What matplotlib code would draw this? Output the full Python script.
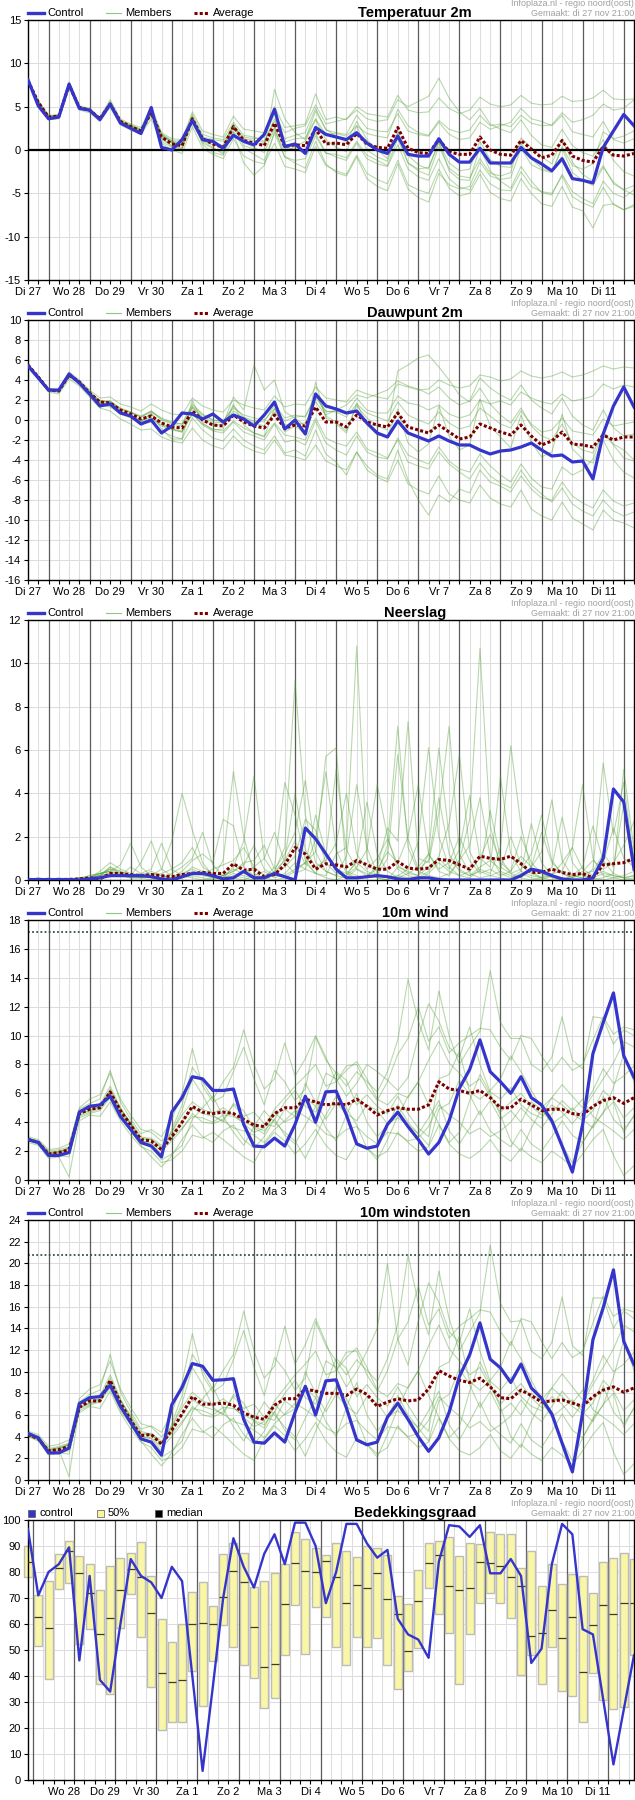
import numpy as np
import matplotlib.pyplot as plt
from matplotlib.lines import Line2D
from matplotlib.patches import Rectangle

plt.rcParams['font.family'] = ['Liberation Sans', 'DejaVu Sans']
plt.rcParams['axes.unicode_minus'] = False

# 6-hourly steps, 60 per series
day_labels = ['Di 27', 'Wo 28', 'Do 29', 'Vr 30', 'Za 1', 'Zo 2', 'Ma 3', 'Di 4',
              'Wo 5', 'Do 6', 'Vr 7', 'Za 8', 'Zo 9', 'Ma 10', 'Di 11']

# --- Temperatuur 2m ---
temp_control = [8.1, 5.1, 3.6, 3.8, 7.6, 4.8, 4.6, 3.5, 5.3, 3.1,
                2.5, 1.9, 4.9, 0.3, 0.0, 1.2, 3.4, 1.2, 1.0, 0.2,
                1.7, 1.0, 0.6, 1.8, 4.7, 0.4, 0.7, -0.4, 2.6, 1.8,
                1.5, 1.2, 2.0, 0.8, 0.0, -0.4, 1.6, -0.5, -0.7, -0.7,
                1.3, -0.5, -1.4, -1.4, 0.2, -1.5, -1.5, -1.5, 0.3, -0.9,
                -1.6, -2.4, -1.0, -3.3, -3.5, -3.8, 0.3, 2.2, 4.1, 2.8]
temp_avg = [8.0, 5.5, 3.8, 3.9, 7.5, 4.9, 4.6, 3.6, 5.3, 3.3,
            2.7, 2.2, 4.3, 1.5, 0.7, 0.5, 3.6, 1.3, 0.7, 0.3,
            2.7, 1.1, 0.8, 0.5, 3.1, 0.4, 0.6, 0.5, 2.4, 0.7,
            0.8, 0.6, 1.9, 0.7, 0.3, 0.2, 2.6, 0.2, -0.3, -0.4,
            1.2, -0.2, -0.5, -0.5, 1.5, 0.0, -0.5, -0.6, 1.1, 0.1,
            -0.9, -0.6, 1.1, -0.7, -1.2, -1.4, 0.4, -0.6, -0.7, -0.4]
temp_members = [
    [8.1, 5.7, 4.0, 4.1, 7.9, 5.1, 4.8, 3.8, 5.8, 3.6, 3.0, 2.6, 5.0, 2.0, 1.3, 1.2, 4.4, 2.2, 1.8, 1.5,
     3.9, 2.4, 2.2, 2.0, 5.0, 2.6, 2.8, 3.0, 6.5, 3.5, 3.8, 3.5, 5.0, 4.2, 4.0, 3.8, 6.3, 4.6, 4.3, 4.4,
     6.0, 4.8, 4.2, 4.6, 6.1, 5.3, 5.0, 5.2, 6.3, 5.4, 5.2, 5.3, 6.2, 5.6, 5.7, 6.0, 6.9, 5.9, 5.8, 5.9],
    [7.9, 5.3, 3.5, 3.6, 7.1, 4.6, 4.3, 3.3, 4.9, 2.9, 2.3, 1.8, 3.6, 0.8, 0.0, -0.4, 2.7, 0.2, -0.5, -1.0,
     1.3, -0.7, -1.3, -1.6, 0.8, -1.9, -2.2, -2.6, 0.4, -1.8, -2.4, -2.8, -0.6, -2.7, -3.4, -3.9, -1.2, -4.0, -4.6, -5.0,
     -2.2, -4.4, -5.3, -5.0, -2.8, -4.9, -5.6, -5.9, -3.3, -5.0, -6.2, -6.5, -4.2, -6.6, -7.0, -9.0, -6.4, -6.2, -6.9, -6.5],
    [8.0, 5.5, 3.9, 4.0, 7.7, 5.0, 4.6, 3.6, 5.5, 3.4, 2.8, 2.3, 4.6, 1.4, 0.4, 0.2, 3.9, 1.0, 0.3, -0.5,
     3.0, 0.5, 0.1, 0.0, 7.0, 3.6, 2.0, 1.2, 4.5, 2.4, 1.6, 0.9, 3.3, 1.2, 0.0, -1.0, 1.9, -1.5, -2.4, -2.9,
     0.4, -2.1, -3.0, -3.2, -1.0, -2.7, -3.0, -2.6, 1.4, 0.3, -0.8, -1.6, 1.3, -1.4, -2.8, -3.6, -1.8, -3.9, -4.6, -5.2],
    [8.1, 5.6, 3.7, 3.7, 7.4, 4.9, 4.5, 3.5, 5.2, 3.2, 2.6, 2.1, 4.1, 1.6, 1.0, 0.8, 3.4, 1.5, 1.2, 1.0,
     2.6, 1.5, 1.3, 1.5, 4.1, 2.0, 2.5, 2.8, 5.2, 3.0, 3.3, 3.6, 4.6, 3.6, 3.3, 3.5, 5.8, 5.0, 5.6, 6.2,
     8.3, 6.0, 4.4, 3.5, 4.8, 3.0, 2.4, 2.0, 3.5, 1.7, 0.6, 0.3, 2.4, 0.5, -0.3, -0.7, 1.2, -1.2, -2.5, -3.0],
    [8.0, 5.4, 3.8, 3.9, 7.6, 4.8, 4.7, 3.6, 5.3, 3.3, 2.7, 2.2, 4.2, 1.0, 0.3, 0.1, 3.2, 0.8, 0.2, -0.3,
     2.2, 0.2, -0.5, -1.2, 1.9, -0.8, -1.2, -1.0, 1.6, -0.4, -0.5, -0.9, 1.0, -0.6, -1.2, -1.8, 1.3, -1.5, -2.2, -2.0,
     0.8, -1.5, -2.4, -2.2, 1.0, -1.1, -1.9, -2.0, 0.8, -1.0, -2.1, -2.5, 0.2, -2.6, -3.5, -4.1, -2.0, -3.7, -4.6, -4.1],
    [8.0, 5.6, 3.9, 4.0, 7.5, 5.0, 4.6, 3.7, 5.4, 3.3, 2.6, 2.0, 4.4, 1.7, 0.9, 0.6, 3.8, 1.4, 0.8, 0.2,
     2.9, 0.9, 0.3, -0.3, 2.5, -0.8, -1.5, -2.1, 1.0, -1.6, -2.6, -3.0, -0.8, -3.3, -4.2, -4.7, -1.6, -4.5, -5.5, -6.0,
     -2.7, -4.0, -4.5, -4.2, -1.4, -3.0, -3.4, -3.2, 0.2, -1.7, -2.3, -2.6, 0.4, -1.8, -2.2, -1.6, 2.1, 1.3, 1.6, 2.2],
    [8.0, 5.5, 3.8, 3.8, 7.6, 4.9, 4.6, 3.6, 5.4, 3.4, 2.9, 2.4, 4.6, 1.8, 1.1, 1.0, 4.1, 1.8, 1.4, 1.2,
     3.2, 1.7, 1.5, 1.0, 3.6, 1.3, 1.7, 2.0, 4.8, 2.3, 2.0, 1.8, 4.0, 2.5, 2.2, 2.1, 4.2, 2.2, 1.8, 1.6,
     3.2, 1.8, 1.2, 1.4, 3.2, 2.4, 2.8, 3.2, 4.8, 3.6, 3.3, 2.8, 4.0, 2.1, 1.8, 1.5, 3.3, 1.2, 0.8, 1.3],
    [8.0, 5.4, 3.7, 3.8, 7.4, 4.8, 4.5, 3.5, 5.1, 3.2, 2.6, 2.1, 4.0, 1.3, 0.5, 0.3, 3.3, 1.1, 0.6, 0.4,
     2.5, 1.0, 0.7, 0.7, 2.6, 0.2, 0.1, -0.4, 1.9, -0.3, -0.8, -1.2, 0.8, -1.0, -1.6, -1.9, 0.6, -2.2, -3.1, -3.5,
     -1.0, -3.3, -4.3, -4.6, -2.3, -3.9, -4.6, -4.7, -2.5, -4.2, -4.8, -5.0, -3.0, -5.4, -6.1, -6.6, -4.3, -6.3, -6.9, -6.3],
    [8.1, 5.5, 3.8, 3.9, 7.7, 4.9, 4.5, 3.6, 5.6, 3.3, 2.7, 2.3, 4.5, 1.9, 1.0, 0.5, 3.7, 0.6, -0.3, -0.6,
     2.0, -1.5, -2.9, -1.8, 2.2, -0.2, 0.4, 1.0, 3.5, 1.2, 0.3, -0.2, 2.8, 0.0, -0.8, -1.3, 2.1, -0.6, -1.7, -2.2,
     1.0, -2.4, -3.4, -3.5, 0.3, -2.4, -3.6, -4.4, -1.9, -3.6, -4.9, -5.2, -2.8, -4.8, -5.6, -6.2, -3.6, -5.0, -5.5, -4.6],
    [8.0, 5.6, 3.9, 4.0, 7.4, 5.0, 4.6, 3.7, 5.2, 3.3, 2.8, 2.3, 4.4, 1.6, 0.8, 0.6, 3.6, 1.4, 0.9, 0.5,
     2.9, 1.3, 1.1, 0.9, 3.3, 0.9, 1.3, 1.4, 3.6, 1.8, 1.9, 1.6, 2.8, 1.9, 1.6, 1.4, 4.7, 2.8, 2.0, 1.7,
     3.4, 2.4, 2.0, 2.3, 4.0, 2.8, 3.0, 2.7, 4.0, 3.1, 2.8, 2.9, 4.3, 3.2, 3.5, 4.0, 5.3, 4.6, 4.8, 5.8],
]

# --- Dauwpunt 2m ---
dew_control = [5.4, 4.2, 3.0, 3.0, 4.6, 3.7, 2.6, 1.4, 1.6, 0.7,
               0.4, -0.4, 0.0, -1.3, -0.6, 0.7, 0.6, 0.1, 0.6, -0.2,
               0.5, 0.1, -0.6, 0.5, 1.8, -0.9, 0.0, -1.4, 2.6, 1.4,
               1.1, 0.7, 0.9, -0.3, -1.3, -1.7, -0.1, -1.3, -1.7, -2.1,
               -1.6, -2.1, -2.5, -2.5, -3.0, -3.4, -3.1, -3.0, -2.7, -2.3,
               -3.0, -3.6, -3.5, -4.2, -4.1, -5.9, -1.4, 1.4, 3.3, 1.3]
dew_avg = [5.5, 4.3, 3.0, 2.9, 4.5, 3.8, 2.7, 1.8, 1.7, 1.0,
           0.6, 0.1, 0.4, -0.3, -0.7, -0.8, 0.9, 0.0, -0.5, -0.6,
           0.5, -0.2, -0.6, -0.8, 0.5, -0.8, -0.5, -0.6, 1.3, -0.2,
           -0.2, -0.7, 0.5, -0.2, -0.5, -0.7, 0.7, -0.7, -1.0, -1.3,
           -0.5, -1.2, -1.9, -1.7, -0.4, -0.8, -1.2, -1.5, -0.5, -1.6,
           -2.5, -2.1, -1.2, -2.4, -2.5, -2.7, -1.5, -2.0, -1.7, -1.7]
dew_members = [
    [5.6, 4.4, 3.1, 3.0, 4.8, 4.0, 3.0, 2.2, 2.3, 1.6, 1.3, 0.9, 1.6, 1.0, 0.6, 0.5, 2.2, 1.4, 1.0, 0.8,
     2.0, 1.5, 1.2, 1.0, 2.4, 1.3, 1.6, 1.5, 3.3, 2.2, 2.0, 1.8, 3.0, 2.6, 2.3, 2.1, 3.6, 3.3, 3.0, 3.1,
     4.0, 3.5, 3.2, 3.4, 4.5, 4.3, 3.9, 4.1, 4.9, 4.4, 4.2, 4.4, 4.8, 4.3, 4.5, 4.9, 5.4, 5.1, 5.3, 5.2],
    [5.4, 4.2, 2.8, 2.6, 4.1, 3.4, 2.3, 1.2, 0.9, 0.1, -0.4, -1.0, -0.9, -1.7, -2.1, -2.3, -0.8, -2.0, -2.6, -2.9,
     -1.6, -2.6, -3.1, -3.4, -2.0, -3.5, -3.7, -4.0, -2.5, -4.1, -4.6, -5.0, -3.2, -5.0, -5.7, -6.2, -4.0, -6.4, -7.0, -7.4,
     -5.6, -7.4, -8.0, -8.3, -6.5, -7.8, -8.4, -8.7, -7.0, -8.9, -9.6, -10.0, -8.2, -9.8, -10.4, -11.0, -9.0, -10.0, -10.3, -10.8],
    [5.5, 4.3, 3.0, 2.9, 4.7, 3.8, 2.6, 1.7, 1.9, 0.9, 0.4, -0.1, 0.6, -0.3, -0.9, -1.2, 1.3, 0.2, -0.6, -0.4,
     2.3, 1.0, 5.5, 3.0, 4.0, 0.8, 0.2, -0.6, 2.7, 0.4, -0.2, -1.1, 1.4, 0.2, -0.6, -1.0, 4.9, 5.5, 6.2, 6.5,
     5.3, 4.0, 2.5, 1.8, 3.2, 1.6, 0.5, -0.3, 1.2, -0.6, -1.6, -2.0, -0.4, -2.3, -3.0, -3.3, -1.2, -2.5, -3.8, -4.1],
    [5.5, 4.2, 2.9, 2.8, 4.3, 3.6, 2.5, 1.5, 1.3, 0.6, 0.2, -0.4, -0.2, -1.1, -1.6, -1.9, 0.2, -1.0, -1.8, -2.1,
     -0.9, -2.0, -2.6, -3.0, -1.6, -3.3, -3.0, -3.6, -1.0, -3.4, -4.2, -5.5, -3.2, -4.6, -5.5, -5.9, -3.0, -6.0, -8.0, -9.5,
     -7.5, -8.2, -6.9, -7.3, -5.0, -6.2, -6.6, -7.2, -5.6, -6.9, -7.8, -8.0, -6.2, -7.6, -8.3, -8.8, -7.0, -8.1, -8.6, -8.3],
    [5.6, 4.4, 3.1, 3.0, 4.6, 3.9, 2.8, 1.9, 1.8, 1.1, 0.8, 0.3, 0.8, 0.2, -0.2, -0.4, 1.6, 0.6, 0.0, -0.2,
     1.4, 0.3, -0.1, -0.2, 1.5, 0.2, 0.5, 0.3, 2.5, 0.9, 0.8, 0.3, 1.6, 0.7, 0.3, -0.1, 1.8, 0.5, 0.0, -0.4,
     0.8, -0.3, -0.9, -0.6, 1.2, 0.4, -0.4, -0.8, 0.9, -0.4, -1.2, -1.0, 0.2, -1.1, -1.3, -1.5, 0.1, -0.6, -0.4, -0.2],
    [5.5, 4.3, 2.9, 2.8, 4.4, 3.7, 2.6, 1.6, 1.4, 0.8, 0.4, -0.2, 0.1, -0.6, -1.0, -1.2, 0.6, -0.5, -1.1, -1.3,
     -0.2, -1.2, -1.6, -2.0, -0.4, -2.2, -2.0, -2.5, -0.1, -2.3, -3.0, -3.5, -1.6, -3.2, -3.7, -3.9, -1.8, -3.5, -4.0, -4.4,
     -2.7, -4.1, -4.9, -5.2, -3.4, -4.6, -5.5, -6.2, -4.4, -5.8, -6.7, -6.9, -4.7, -5.5, -5.0, -3.9, -1.2, -2.4, -3.0, -4.0],
    [5.5, 4.4, 3.1, 3.0, 4.6, 3.9, 2.8, 1.9, 1.9, 1.2, 0.8, 0.4, 0.9, 0.1, -0.3, -0.4, 1.4, 0.5, 0.0, -0.1,
     1.2, 0.5, 0.2, 0.0, 1.1, -0.1, 0.3, 0.4, 2.3, 0.8, 0.9, 0.6, 2.2, 1.0, 0.7, 0.7, 2.4, 1.7, 1.5, 1.0,
     1.5, 0.6, 0.2, 0.5, 2.0, 1.6, 1.9, 1.5, 2.8, 2.2, 1.8, 1.6, 2.6, 1.9, 2.1, 2.4, 3.6, 3.1, 3.5, 3.3],
    [5.4, 4.3, 3.0, 2.9, 4.4, 3.7, 2.7, 1.7, 1.6, 0.9, 0.5, 0.0, 0.2, -0.5, -0.9, -1.1, 0.6, -0.4, -0.9, -1.1,
     -0.1, -0.8, -1.3, -1.6, -0.3, -1.5, -1.7, -2.0, 0.2, -1.8, -2.3, -2.6, -1.2, -2.9, -3.3, -3.8, -2.0, -4.2, -4.6, -4.9,
     -3.2, -4.4, -5.2, -5.9, -4.3, -5.6, -6.3, -6.8, -5.0, -6.5, -7.4, -8.2, -6.8, -8.4, -9.1, -9.6, -8.0, -9.1, -9.6, -9.2],
    [5.6, 4.3, 3.0, 2.9, 4.6, 3.8, 2.7, 1.8, 1.5, 0.7, 0.3, -0.2, 0.7, -0.9, -1.9, -1.9, 2.0, -0.3, -1.0, -0.9,
     1.6, -0.5, -1.3, -1.7, 1.2, -1.2, -0.6, -1.4, 3.8, 0.2, -0.4, -1.3, 1.7, -0.5, -1.5, -1.6, 1.1, -2.3, -3.2, -2.4,
     1.4, -1.6, -3.0, -2.5, 2.1, -0.6, -1.7, -2.8, 0.5, -2.2, -3.7, -3.2, 0.6, -2.9, -3.9, -4.3, -2.0, -4.0, -5.2, -5.8],
    [5.5, 4.4, 3.1, 3.0, 4.5, 3.8, 2.8, 1.9, 1.8, 1.1, 0.7, 0.3, 0.9, 0.0, -0.4, -0.6, 1.2, 0.3, -0.2, -0.3,
     0.9, 0.2, -0.3, -0.6, 0.8, -0.5, -0.4, -0.3, 1.8, 0.5, 1.0, 1.5, 2.5, 2.2, 2.6, 3.0, 3.9, 3.4, 3.1, 2.6,
     3.3, 2.2, 1.5, 1.9, 4.2, 3.2, 2.5, 2.0, 3.5, 2.0, 1.2, 0.6, 2.2, 0.4, -0.5, -1.0, 1.0, -0.8, -1.6, -1.4],
]

# --- Neerslag ---
rain_control = [0.02, 0.02, 0.02, 0.02, 0.02, 0.0, 0.05, 0.1, 0.2, 0.2,
                0.2, 0.2, 0.15, 0.05, 0.0, 0.15, 0.3, 0.3, 0.2, 0.05,
                0.1, 0.4, 0.1, 0.1, 0.3, 0.15, 0.0, 2.4, 1.9, 1.2,
                0.5, 0.1, 0.1, 0.15, 0.2, 0.15, 0.05, 0.02, 0.1, 0.1,
                0.02, 0.0, 0.0, 0.0, 0.0, 0.0, 0.0, 0.0, 0.2, 0.5,
                0.4, 0.2, 0.05, 0.0, 0.0, 0.1, 1.0, 4.2, 3.6, 0.5]
rain_avg = [0.02, 0.02, 0.02, 0.02, 0.03, 0.05, 0.1, 0.05, 0.3, 0.3,
            0.25, 0.2, 0.25, 0.2, 0.15, 0.25, 0.3, 0.35, 0.3, 0.3,
            0.75, 0.45, 0.5, 0.15, 0.25, 0.7, 1.5, 1.2, 0.5, 0.75,
            0.7, 0.6, 0.9, 0.7, 0.5, 0.5, 0.85, 0.55, 0.5, 0.55,
            0.95, 0.9, 0.7, 0.5, 1.1, 1.0, 0.95, 1.1, 0.75, 0.35,
            0.35, 0.5, 0.35, 0.25, 0.3, 0.1, 0.7, 0.75, 0.8, 1.0]
rain_members = [
    [0, 0, 0, 0, 0, 0.1, 0.2, 0.3, 0.5, 0.3, 0.2, 0.1, 0.2, 0.5, 1.8, 4.0, 2.3, 0.8, 0.2, 0.1,
     0.3, 0.2, 0.1, 0, 0.4, 1.5, 9.2, 3.0, 0.8, 0.4, 0.2, 0.1, 0.5, 0.3, 0.1, 0, 0.6, 0.4, 0.2, 1.2,
     6.1, 2.0, 0.5, 0.2, 0.4, 0.2, 0.1, 0, 0.3, 0.1, 0, 0.2, 0.8, 1.5, 4.4, 1.0, 0.2, 0.1, 0, 0.1],
    [0, 0.1, 0, 0, 0, 0, 0.1, 0.4, 0.8, 0.5, 0.3, 0.2, 0.1, 0, 0.1, 0.3, 0.5, 0.3, 0.1, 0.9,
     5.0, 2.0, 0.3, 0.1, 0, 0.1, 0.4, 0.8, 0.3, 0.2, 1.2, 1.5, 10.8, 1.0, 0.1, 0, 0.2, 0.1, 0, 0.3,
     0.8, 0.4, 0.2, 0.1, 0.5, 0.3, 1.5, 6.2, 2.5, 0.4, 0.1, 0, 0, 0.2, 0.1, 0.5, 5.4, 2.1, 4.5, 0.8],
    [0, 0, 0, 0, 0, 0.1, 0.1, 0.2, 0.6, 0.4, 0.2, 0.3, 0.2, 0.1, 0, 0.2, 0.6, 0.4, 0.2, 0.1,
     0.6, 1.8, 4.8, 1.0, 0.3, 0.2, 0.5, 0.8, 1.3, 5.7, 6.1, 0.4, 0.2, 0.1, 0.3, 1.6, 7.1, 1.5, 0.4, 0.2,
     0.1, 0.3, 0.9, 2.8, 10.7, 2.5, 0.6, 0.3, 0.1, 0, 0.1, 0.2, 0.1, 0, 0, 0.1, 0.3, 0.2, 0.1, 0.2],
    [0, 0, 0.1, 0, 0, 0, 0.1, 0.3, 0.4, 0.2, 0.6, 0.3, 0.5, 1.7, 0.5, 0.2, 0.1, 0, 0.1, 0.2,
     0.1, 0, 0.2, 0.4, 0.1, 0.3, 0.8, 0.5, 0.3, 1.1, 5.1, 1.4, 0.5, 0.2, 0.6, 2.4, 1.8, 7.3, 1.0, 0.8,
     3.1, 7.1, 1.2, 0.3, 0.1, 0.2, 0.4, 0.2, 0.1, 0.6, 1.3, 3.7, 0.9, 0.2, 0.1, 0, 0.1, 0.3, 5.1, 1.4],
    [0, 0, 0, 0.1, 0, 0, 0, 0.2, 0.5, 0.4, 0.2, 0.8, 1.8, 0.5, 0.2, 0.1, 0.3, 0.2, 0.1, 0,
     0.2, 0.1, 0, 0.1, 0.6, 4.5, 3.0, 0.9, 0.3, 0.1, 0, 0.2, 0.6, 1.4, 4.4, 2.0, 0.5, 0.2, 0.1, 0.4,
     1.1, 2.6, 5.8, 1.3, 0.4, 3.2, 1.0, 0.3, 0.5, 1.2, 3.0, 0.9, 0.3, 0.1, 0, 0.2, 0.4, 0.2, 0.1, 0],
    [0.1, 0, 0, 0, 0, 0, 0.1, 0.2, 0.3, 0.2, 0.1, 0.1, 0.3, 0.2, 0.1, 0.4, 0.9, 1.2, 0.8, 2.8,
     2.5, 0.6, 0.2, 0.1, 0.3, 0.6, 1.1, 2.8, 2.3, 0.8, 0.3, 0.2, 0.9, 3.6, 1.2, 0.4, 0.1, 0.3, 0.2, 0.6,
     1.0, 0.5, 1.4, 3.9, 1.0, 0.6, 4.8, 1.2, 0.4, 0.2, 0.1, 0.6, 2.9, 0.8, 0.2, 0.1, 0, 0.1, 0.2, 0.4],
    [0, 0, 0, 0, 0, 0.1, 0.1, 0.3, 0.4, 0.7, 1.7, 0.6, 0.2, 0.1, 0, 0.1, 0.2, 0.1, 0, 0.2,
     0.5, 0.3, 0.6, 1.0, 2.2, 0.8, 0.3, 0.5, 1.9, 5.0, 1.4, 0.3, 0.1, 0.2, 0.5, 1.3, 0.8, 2.0, 4.4, 1.2,
     0.4, 0.2, 0.9, 1.6, 3.8, 1.1, 0.3, 0.1, 0.4, 2.6, 0.8, 0.2, 0, 0.1, 0.3, 0.4, 1.2, 0.6, 3.5, 1.0],
    [0, 0, 0, 0, 0, 0, 0.2, 0.3, 0.4, 0.3, 0.2, 0.1, 0, 0.1, 0.3, 0.6, 1.0, 2.2, 0.7, 0.2,
     0.4, 0.8, 0.9, 1.6, 0.5, 1.2, 2.2, 4.6, 1.3, 0.4, 0.2, 1.1, 4.4, 1.5, 0.3, 0.1, 0.2, 0.5, 1.8, 6.1,
     2.0, 0.6, 0.2, 0.4, 1.0, 2.1, 0.8, 0.4, 2.0, 0.8, 0.3, 0.1, 0, 0.2, 0.6, 2.5, 0.9, 0.3, 0.1, 0.2],
    [0, 0.1, 0, 0, 0, 0.1, 0.1, 0.2, 0.6, 0.3, 0.1, 0.2, 0.4, 0.2, 0.1, 0.2, 0.4, 0.3, 0.5, 0.7,
     0.9, 1.5, 0.6, 0.2, 0.4, 0.9, 1.8, 0.7, 3.0, 1.2, 0.5, 0.3, 0.8, 0.4, 0.2, 1.0, 5.8, 1.9, 0.5, 0.9,
     3.8, 1.2, 0.4, 0.2, 0.6, 0.9, 0.5, 2.0, 0.7, 0.3, 0.1, 0.3, 0.4, 1.5, 0.5, 0.2, 0.8, 2.4, 1.0, 0.6],
    [0, 0, 0, 0, 0, 0, 0.1, 0.2, 0.3, 0.2, 0.1, 0.1, 0.2, 0.3, 0.5, 0.8, 1.5, 0.6, 0.3, 0.2,
     0.4, 0.7, 1.6, 0.5, 0.2, 1.0, 4.0, 1.4, 0.6, 0.9, 1.7, 4.0, 1.2, 0.5, 1.0, 1.9, 0.7, 0.3, 0.6, 1.2,
     0.5, 0.8, 2.0, 0.9, 0.3, 0.5, 0.2, 0.4, 1.1, 0.6, 2.2, 0.8, 0.3, 0.1, 0.4, 0.9, 0.5, 0.8, 1.6, 2.7],
]

# --- 10m wind ---
wind_control = [2.8, 2.6, 1.7, 1.7, 1.9, 4.7, 5.1, 5.2, 5.8, 4.4,
                3.5, 2.6, 2.35, 1.6, 4.7, 5.7, 7.15, 7.0, 6.2, 6.2,
                6.3, 3.85, 2.35, 2.3, 2.9, 2.35, 3.85, 5.8, 4.0, 6.1,
                6.15, 4.5, 2.5, 2.2, 2.35, 3.85, 4.7, 3.7, 2.8, 1.8,
                2.6, 4.1, 6.35, 7.65, 9.7, 7.5, 6.8, 6.0, 7.15, 5.7,
                5.2, 4.1, 2.35, 0.55, 3.85, 8.75, 10.9, 12.95, 8.6, 7.1]
wind_avg = [2.8, 2.6, 1.8, 1.9, 2.1, 4.6, 4.9, 5.0, 6.1, 4.8,
            3.8, 2.8, 2.7, 2.1, 3.0, 4.0, 5.1, 4.7, 4.6, 4.7,
            4.6, 4.2, 3.8, 3.7, 4.6, 5.0, 5.0, 5.6, 5.4, 5.2,
            5.3, 5.2, 5.6, 5.1, 4.5, 4.8, 5.0, 4.9, 4.9, 5.2,
            6.8, 6.3, 6.2, 6.0, 6.2, 5.7, 5.0, 5.0, 5.6, 5.2,
            4.8, 4.9, 4.9, 4.6, 4.5, 5.1, 5.5, 5.7, 5.3, 5.7]
wind_limit = 17.2
wind_members = [
    [2.9, 2.7, 2.0, 2.1, 2.3, 4.9, 5.3, 5.6, 7.6, 5.4, 4.2, 3.2, 3.5, 3.0, 4.2, 6.0, 9.1, 6.5, 5.4, 5.8,
     7.5, 9.2, 7.0, 5.2, 7.6, 6.8, 5.5, 6.3, 9.9, 8.3, 7.4, 6.5, 7.5, 6.8, 6.1, 7.5, 9.7, 13.9, 11.0, 9.0,
     13.1, 10.0, 8.0, 9.2, 10.3, 14.5, 10.9, 9.8, 9.8, 8.0, 7.5, 8.5, 11.3, 8.3, 7.7, 11.3, 11.2, 9.4, 10.4, 10.0],
    [2.6, 2.4, 1.5, 1.6, 0.2, 4.1, 4.5, 4.4, 5.4, 4.1, 3.1, 2.3, 2.0, 1.2, 1.4, 2.0, 3.1, 2.9, 3.3, 2.8,
     2.2, 1.6, 1.2, 2.5, 3.3, 2.7, 1.8, 2.5, 3.5, 2.4, 1.7, 1.4, 2.6, 2.2, 1.6, 2.0, 3.3, 2.6, 2.0, 2.3,
     3.8, 2.5, 1.8, 1.5, 2.0, 2.8, 1.8, 1.3, 2.2, 1.6, 1.2, 2.0, 1.5, 0.9, 1.8, 2.8, 3.5, 1.7, 0.3, 1.0],
    [2.8, 2.6, 1.9, 1.9, 2.2, 4.7, 5.1, 5.2, 6.5, 5.0, 3.8, 2.7, 2.5, 1.8, 3.5, 5.2, 7.8, 6.8, 5.6, 6.8,
     7.8, 10.4, 8.0, 6.3, 7.0, 9.5, 7.2, 8.4, 10.0, 8.5, 6.8, 7.9, 8.0, 6.5, 5.5, 6.8, 8.7, 9.8, 12.0, 9.6,
     10.6, 8.8, 9.5, 10.0, 10.5, 10.4, 9.2, 8.3, 10.0, 9.8, 8.6, 7.5, 8.5, 7.6, 8.0, 9.7, 11.3, 10.1, 10.6, 10.4],
    [2.7, 2.5, 1.7, 1.8, 2.0, 4.3, 4.6, 4.8, 5.7, 4.3, 3.4, 2.4, 1.6, 0.9, 1.7, 2.8, 3.8, 3.0, 2.6, 3.4,
     3.8, 2.8, 2.2, 3.0, 4.2, 3.1, 2.5, 3.8, 5.1, 3.6, 2.7, 4.5, 6.0, 4.0, 3.0, 3.8, 5.2, 4.0, 3.2, 4.3,
     5.5, 3.4, 2.5, 3.6, 4.8, 3.4, 2.8, 2.3, 3.5, 2.5, 2.0, 3.0, 4.1, 3.1, 2.6, 3.7, 5.8, 4.2, 3.5, 4.4],
    [3.0, 2.8, 2.1, 2.2, 2.5, 5.0, 5.6, 5.9, 7.4, 5.6, 4.5, 3.5, 3.3, 2.7, 3.3, 4.5, 5.4, 4.9, 4.6, 5.0,
     4.5, 3.9, 3.3, 3.6, 4.9, 5.7, 6.5, 7.2, 8.0, 6.5, 6.8, 7.6, 8.2, 7.0, 5.6, 5.2, 6.0, 5.7, 6.8, 8.3,
     9.6, 8.1, 7.4, 6.5, 7.0, 5.8, 4.7, 5.4, 6.0, 5.1, 4.5, 5.7, 6.6, 5.8, 5.0, 6.2, 7.7, 6.7, 7.2, 7.9],
    [2.8, 2.5, 1.7, 1.7, 1.6, 4.4, 4.7, 4.9, 6.0, 4.6, 3.4, 2.5, 2.3, 1.4, 1.8, 2.4, 4.2, 5.0, 5.8, 4.4,
     3.3, 2.4, 3.7, 4.8, 4.0, 3.3, 2.7, 1.5, 3.0, 4.5, 5.8, 5.0, 3.8, 2.2, 1.4, 2.8, 4.4, 5.8, 6.8, 5.2,
     3.9, 2.6, 3.3, 5.5, 7.3, 6.0, 4.5, 2.7, 2.0, 3.6, 4.9, 4.0, 2.4, 1.2, 2.6, 3.8, 4.6, 6.4, 8.7, 6.8],
    [2.9, 2.6, 1.8, 1.8, 2.3, 4.6, 5.0, 5.0, 6.3, 4.9, 4.0, 3.0, 2.8, 2.2, 3.3, 4.8, 7.0, 5.9, 4.5, 4.0,
     5.3, 4.8, 3.6, 3.2, 4.7, 4.0, 4.4, 5.7, 5.1, 7.4, 7.0, 5.8, 6.7, 8.0, 7.5, 6.9, 6.2, 7.1, 9.9, 12.2,
     11.0, 9.2, 8.5, 10.6, 8.0, 6.1, 5.6, 6.4, 5.2, 4.6, 4.3, 5.2, 4.7, 3.9, 4.8, 5.9, 7.0, 8.1, 9.6, 9.2],
    [2.7, 2.6, 1.8, 2.0, 2.1, 4.5, 4.8, 5.1, 6.2, 4.7, 3.9, 2.7, 2.6, 2.0, 2.7, 3.5, 4.6, 4.0, 3.9, 4.2,
     5.2, 4.4, 4.7, 3.9, 3.7, 4.9, 4.4, 6.7, 5.4, 4.2, 5.3, 4.6, 4.1, 5.2, 4.8, 3.9, 4.3, 3.8, 3.2, 2.4,
     4.9, 5.3, 6.9, 5.9, 4.5, 5.5, 4.2, 4.8, 4.0, 5.4, 4.9, 3.9, 4.4, 5.0, 4.2, 3.6, 4.7, 5.4, 3.3, 4.5],
    [2.8, 2.6, 1.8, 1.9, 2.0, 4.6, 4.8, 5.0, 5.8, 4.8, 3.6, 2.8, 2.8, 2.3, 2.9, 3.6, 4.4, 4.3, 4.0, 4.5,
     4.4, 4.0, 3.7, 3.4, 4.2, 5.4, 6.2, 5.1, 4.7, 6.0, 7.5, 6.9, 5.2, 5.9, 5.1, 4.6, 5.8, 4.6, 3.6, 3.0,
     7.0, 7.3, 8.9, 6.1, 5.6, 6.2, 7.0, 8.6, 7.5, 6.2, 5.0, 5.7, 5.2, 4.6, 4.1, 4.8, 6.2, 5.5, 4.3, 5.0],
    [2.9, 2.7, 1.9, 2.0, 2.2, 4.8, 5.2, 5.2, 6.1, 5.0, 3.9, 2.9, 2.9, 2.4, 3.1, 4.0, 5.0, 4.6, 4.4, 4.1,
     3.6, 3.4, 3.1, 2.6, 3.5, 4.1, 4.8, 4.4, 3.9, 3.2, 2.9, 3.5, 3.7, 3.0, 2.5, 3.3, 3.2, 2.7, 2.9, 3.7,
     5.2, 4.5, 4.0, 3.2, 3.6, 3.0, 3.4, 4.0, 5.0, 4.2, 3.6, 4.6, 5.5, 4.8, 5.6, 4.4, 3.9, 3.4, 2.8, 3.5],
]

# --- 10m windstoten ---
gust_control = [4.3, 3.9, 2.5, 2.5, 2.95, 7.05, 7.6, 7.7, 8.75, 6.8,
                5.3, 3.8, 3.5, 2.3, 6.95, 8.55, 10.75, 10.5, 9.2, 9.25,
                9.35, 5.6, 3.5, 3.4, 4.35, 3.5, 6.25, 8.65, 6.0, 9.15,
                9.25, 6.65, 3.7, 3.25, 3.5, 5.8, 7.1, 5.6, 4.0, 2.65,
                3.9, 6.25, 9.55, 11.55, 14.5, 11.15, 10.35, 9.0, 10.7, 8.5,
                7.55, 6.1, 3.4, 0.75, 6.2, 12.95, 15.9, 19.4, 12.8, 10.65]
gust_avg = [4.2, 3.8, 2.7, 2.8, 3.1, 6.7, 7.3, 7.3, 9.2, 7.1,
            5.5, 4.1, 4.2, 3.3, 4.6, 6.1, 7.7, 7.0, 7.0, 7.1,
            6.9, 6.2, 5.8, 5.6, 6.9, 7.5, 7.5, 8.4, 8.2, 8.0,
            8.0, 7.8, 8.4, 7.9, 6.8, 7.2, 7.5, 7.3, 7.4, 8.4,
            10.1, 9.6, 9.2, 9.0, 9.4, 8.6, 7.6, 7.5, 8.3, 7.8,
            7.2, 7.3, 7.4, 7.1, 6.8, 7.7, 8.3, 8.6, 8.1, 8.5]
gust_limit = 20.8
gust_members = [
    [4.4, 4.0, 2.9, 3.1, 3.4, 7.2, 7.9, 8.3, 11.6, 8.1, 6.3, 4.7, 5.0, 4.4, 6.2, 9.0, 13.5, 9.7, 8.1, 8.8,
     11.1, 13.8, 10.4, 7.8, 11.3, 10.1, 8.3, 9.4, 14.6, 12.4, 11.0, 9.7, 11.1, 10.1, 9.1, 11.2, 14.4, 20.8, 16.3, 13.4,
     19.3, 14.9, 11.9, 13.7, 15.4, 21.7, 16.3, 14.6, 14.7, 11.9, 11.2, 12.7, 16.9, 12.4, 11.5, 16.8, 16.8, 14.0, 15.6, 14.9],
    [4.0, 3.6, 2.3, 2.5, 2.7, 6.2, 6.8, 6.6, 8.2, 6.2, 4.7, 3.5, 3.0, 1.8, 2.1, 3.0, 4.7, 4.4, 5.0, 4.2,
     3.3, 2.4, 1.8, 3.8, 5.0, 4.1, 2.7, 3.8, 5.3, 3.6, 2.6, 2.1, 3.9, 3.3, 2.4, 3.0, 5.0, 3.9, 3.0, 3.5,
     5.7, 3.8, 2.7, 2.3, 3.0, 4.2, 2.7, 2.0, 3.3, 2.4, 1.8, 3.0, 2.3, 1.4, 2.7, 4.2, 5.3, 2.6, 0.5, 1.5],
    [4.3, 3.9, 2.8, 2.9, 3.3, 7.0, 7.6, 7.8, 9.7, 7.5, 5.7, 4.0, 3.8, 2.7, 5.2, 7.8, 11.6, 10.1, 8.4, 10.1,
     11.6, 15.6, 11.9, 9.4, 10.5, 14.2, 10.7, 12.5, 14.9, 12.7, 10.1, 11.8, 11.9, 9.7, 8.2, 10.1, 13.0, 14.6, 17.9, 14.3,
     15.8, 13.1, 14.2, 14.9, 15.7, 15.5, 13.7, 12.4, 14.9, 14.6, 12.8, 11.2, 12.7, 11.3, 11.9, 14.5, 17.0, 15.1, 15.8, 15.5],
    [4.1, 3.7, 2.5, 2.7, 3.0, 6.4, 6.9, 7.2, 8.5, 6.4, 5.1, 3.6, 2.4, 1.3, 2.5, 4.2, 5.7, 4.5, 3.9, 5.1,
     5.7, 4.2, 3.3, 4.5, 6.3, 4.6, 3.7, 5.7, 7.6, 5.4, 4.0, 6.7, 9.0, 6.0, 4.5, 5.7, 7.8, 6.0, 4.8, 6.4,
     8.2, 5.1, 3.7, 5.4, 7.2, 5.1, 4.2, 3.4, 5.2, 3.7, 3.0, 4.5, 6.1, 4.6, 3.9, 5.5, 8.7, 6.3, 5.2, 6.6],
    [4.5, 4.2, 3.1, 3.3, 3.7, 7.5, 8.4, 8.8, 11.0, 8.4, 6.7, 5.2, 4.9, 4.0, 4.9, 6.7, 8.1, 7.3, 6.9, 7.5,
     6.7, 5.8, 4.9, 5.4, 7.3, 8.5, 9.7, 10.7, 11.9, 9.7, 10.1, 11.3, 12.2, 10.4, 8.3, 7.7, 8.9, 8.5, 10.1, 12.4,
     14.3, 12.1, 11.0, 9.7, 10.4, 8.6, 7.0, 8.0, 8.9, 7.6, 6.7, 8.5, 9.8, 8.6, 7.4, 9.2, 11.5, 10.0, 10.7, 11.8],
    [4.2, 3.7, 2.5, 2.5, 2.4, 6.6, 7.0, 7.3, 8.9, 6.9, 5.1, 3.7, 3.4, 2.1, 2.7, 3.6, 6.3, 7.5, 8.6, 6.6,
     4.9, 3.6, 5.5, 7.2, 6.0, 4.9, 4.0, 2.2, 4.5, 6.7, 8.6, 7.5, 5.7, 3.3, 2.1, 4.2, 6.6, 8.6, 10.1, 7.8,
     5.8, 3.9, 4.9, 8.2, 10.9, 8.9, 6.7, 4.0, 3.0, 5.4, 7.3, 6.0, 3.6, 1.8, 3.9, 5.7, 6.9, 9.5, 12.9, 10.1],
    [4.3, 3.9, 2.7, 2.7, 3.4, 6.9, 7.4, 7.4, 9.4, 7.3, 6.0, 4.5, 4.2, 3.3, 4.9, 7.1, 10.4, 8.8, 6.7, 6.0,
     7.9, 7.1, 5.4, 4.8, 7.0, 6.0, 6.6, 8.5, 7.6, 11.0, 10.4, 8.6, 10.0, 11.9, 14.0, 20.0, 13.0, 10.6, 14.7, 18.2,
     16.4, 13.7, 12.7, 15.8, 11.9, 9.1, 8.3, 9.5, 7.7, 6.8, 6.4, 7.7, 7.0, 5.8, 7.1, 8.8, 10.4, 12.1, 14.3, 13.7],
    [4.0, 3.9, 2.7, 3.0, 3.1, 6.7, 7.1, 7.6, 9.2, 7.0, 5.8, 4.0, 3.9, 3.0, 4.0, 5.2, 6.8, 6.0, 5.8, 6.3,
     7.7, 6.6, 7.0, 5.8, 5.5, 7.3, 6.6, 10.0, 8.0, 6.3, 7.9, 6.8, 6.1, 7.7, 7.1, 5.8, 6.4, 5.7, 4.8, 3.6,
     7.3, 7.9, 10.3, 8.8, 6.7, 8.2, 6.3, 7.1, 6.0, 8.0, 7.3, 5.8, 6.6, 7.4, 6.3, 5.4, 7.0, 8.0, 4.9, 6.7],
    [4.2, 3.9, 2.7, 2.8, 0.3, 6.8, 7.1, 7.4, 8.6, 7.1, 5.4, 4.2, 4.2, 3.4, 4.3, 5.4, 6.6, 6.4, 6.0, 6.7,
     6.6, 6.0, 5.5, 5.1, 6.3, 8.0, 9.2, 7.6, 7.0, 8.9, 11.2, 10.3, 7.7, 8.8, 7.6, 6.8, 8.6, 6.9, 5.4, 4.5,
     10.4, 10.9, 13.3, 9.1, 8.3, 9.2, 10.4, 12.8, 11.2, 9.2, 7.4, 8.5, 7.7, 6.8, 6.1, 7.1, 9.2, 8.2, 6.4, 7.4],
    [4.4, 4.0, 2.8, 3.0, 3.3, 7.1, 7.7, 7.7, 9.1, 7.4, 5.8, 4.3, 4.3, 3.6, 4.6, 6.0, 7.4, 6.8, 6.5, 6.1,
     5.4, 5.1, 4.6, 3.9, 5.2, 6.1, 7.1, 6.5, 5.8, 4.8, 4.3, 5.2, 5.5, 4.5, 3.7, 4.9, 4.8, 4.0, 4.3, 5.5,
     7.7, 6.7, 5.9, 4.8, 5.4, 4.5, 5.1, 5.9, 7.4, 6.2, 5.4, 6.8, 8.2, 7.1, 8.3, 6.5, 5.8, 5.1, 4.2, 5.2],
]

# --- Bedekkingsgraad (%) ---
cloud_top = [90, 71, 76.7, 86.8, 92.1, 86.3, 83, 72.9, 82.5, 85.2,
             87.2, 91.7, 78.6, 61.9, 52.9, 60, 72.3, 76.1, 67.1, 86.8,
             91, 87.2, 74.2, 76.6, 79.5, 83, 95.3, 92.7, 89.1, 86.4,
             91, 88, 85.7, 90, 89.4, 86.4, 70.6, 67.6, 80.6, 91.3,
             92.1, 93.4, 86.3, 91, 90.7, 95.5, 94.5, 94.5, 81.7, 88.2,
             74.8, 83, 75.3, 79.2, 78.6, 71.9, 83.8, 85.2, 87.2, 84.9]
cloud_bottom = [78, 51.7, 38.9, 73.4, 75.7, 52.3, 58, 37.1, 32.9, 58.4,
                71.5, 55, 35.8, 19.4, 22.5, 22.5, 41.8, 28.6, 45.7, 59.5,
                51.2, 44.1, 39.3, 27.7, 31.6, 48.2, 67.3, 48.5, 66.5, 62.7,
                51.2, 44.4, 55, 51.2, 54.6, 44.4, 35, 41.8, 50.8, 73.8,
                63.8, 56.5, 37.1, 56.1, 68, 71.9, 68, 62.3, 40.2, 48.2,
                37.1, 51.2, 34.4, 32.5, 22.4, 41.2, 30.9, 27.5, 28.1, 48.2]
cloud_median = [83.8, 62.7, 58.4, 81.7, 87.9, 79.5, 71.9, 56.1, 62.3, 72.9,
                81.1, 78, 64.2, 41.2, 37.7, 38.5, 60, 60.4, 60.1, 70.3,
                80.4, 76.3, 58.8, 43.5, 44.6, 67.6, 83.4, 80.4, 79.9, 84.1,
                78, 68, 74.9, 73.8, 79.5, 69.6, 63.8, 49.5, 68.9, 83.4,
                86.6, 74.7, 73.1, 73.8, 83.8, 83.4, 82.5, 78, 74.7, 55.5,
                56.5, 65.5, 54.6, 62.7, 41.6, 59.5, 67.4, 63.8, 68, 68]
cloud_control = [96.5, 71, 80, 83, 89.5, 46, 78.5, 38.5, 34, 60,
                 85, 78.5, 76, 70, 82, 76.5, 40, 3.5, 36, 70,
                 93, 82, 74, 87, 94.5, 83, 99, 99, 90, 68,
                 80, 98.5, 98.5, 91, 85.5, 88.5, 62, 56, 54, 47,
                 84, 98, 97.5, 93.5, 98, 79.5, 79.5, 85, 78.5, 45,
                 50.5, 83, 98.5, 94.5, 58, 56, 31, 6, 27, 48]

# ---------------- drawing ----------------
W, H = 635, 1800
BLUE = '#3535cc'
GREEN = '#4f9f30'
DARKRED = '#7a0000'
GRID = '#dddddd'
DAYLINE = '#5c5c5c'
AVG_DOTS = (0, (1, 0.7))

fig = plt.figure(figsize=(W / 100, H / 100), dpi=100)


def fx(px):
    return px / W


def fy(py):
    return 1 - py / H


def header(top, title, kind='lines'):
    y = fy(top + 13)
    fig.text(fx(415), y, title, ha='center', va='center', fontsize=10.5, fontweight='bold')
    fig.text(fx(634), fy(top + 4), 'Infoplaza.nl - regio noord(oost)', ha='right', va='center',
             fontsize=6.5, color='#a0a0a0')
    fig.text(fx(634), fy(top + 14), 'Gemaakt: di 27 nov 21:00', ha='right', va='center',
             fontsize=6.5, color='#a0a0a0')
    if kind == 'lines':
        fig.add_artist(Line2D([fx(28), fx(44)], [y, y], color=BLUE, lw=2.4))
        fig.text(fx(47), y, 'Control', va='center', fontsize=8)
        fig.add_artist(Line2D([fx(106), fx(121)], [y, y], color=GREEN, lw=0.8, alpha=0.6))
        fig.text(fx(125), y, 'Members', va='center', fontsize=8)
        fig.add_artist(Line2D([fx(194), fx(208)], [y, y], color=DARKRED, lw=2.2, ls=AVG_DOTS))
        fig.text(fx(213), y, 'Average', va='center', fontsize=8)
    else:
        for x0, col, lab in [(28, BLUE, 'control'), (97, '#f9f5a0', '50%'), (155, 'black', 'median')]:
            fig.add_artist(Rectangle((fx(x0), fy(top + 17)), 7 / W, 7 / H,
                                     facecolor=col, edgecolor='#555555', lw=0.5))
            fig.text(fx(x0 + 11), y, lab, va='center', fontsize=8)


def panel(top, ymin, ymax, ystep, shifted=False):
    ax = fig.add_axes([fx(28), fy(top + 280), 606 / W, 260 / H])
    ax.set_xlim(0, 59)
    ax.set_ylim(ymin, ymax)
    yt = np.arange(ymin, ymax + 0.01, ystep)
    ax.set_yticks(yt)
    ax.hlines(yt, 0, 59, color=GRID, lw=0.75, zorder=0)
    off = 0.5 if shifted else 0.0
    minor = np.arange(off, 59.01, 1.0)
    ax.set_xticks(minor, minor=True)
    ax.vlines(minor, ymin, ymax, color=GRID, lw=0.75, zorder=0)
    days = np.arange(0.5 if shifted else 2.0, 59.01, 4.0)
    ax.vlines(days, ymin, ymax, color=DAYLINE, lw=0.9, zorder=0.5)
    if shifted:
        ax.set_xticks(np.arange(3.5, 59, 4.0))
        ax.set_xticklabels(day_labels[1:])
    else:
        ax.set_xticks(np.arange(0, 59, 4.0))
        ax.set_xticklabels(day_labels)
    ax.tick_params(which='both', direction='out', length=3, width=0.8, labelsize=8, pad=2)
    for sp in ax.spines.values():
        sp.set_linewidth(1.0)
        sp.set_color('black')
    return ax


def ensemble(ax, members, avg, ctrl):
    steps = np.arange(len(ctrl))
    for m in members:
        ax.plot(steps, m, color=GREEN, lw=0.8, alpha=0.4, zorder=1)
    ax.plot(steps, avg, color=DARKRED, lw=2.2, ls=AVG_DOTS, zorder=3)
    ax.plot(steps, ctrl, color=BLUE, lw=2.3, zorder=4)


# Temperatuur 2m
header(0, 'Temperatuur 2m')
ax = panel(0, -15, 15, 5)
ax.axhline(0, color='black', lw=1.6, zorder=2)
ensemble(ax, temp_members, temp_avg, temp_control)

# Dauwpunt 2m
header(300, 'Dauwpunt 2m')
ax = panel(300, -16, 10, 2)
ensemble(ax, dew_members, dew_avg, dew_control)

# Neerslag
header(600, 'Neerslag')
ax = panel(600, 0, 12, 2)
ensemble(ax, rain_members, rain_avg, rain_control)

# 10m wind
header(900, '10m wind')
ax = panel(900, 0, 18, 2)
ax.axhline(wind_limit, color='#2a5555', lw=1.3, ls=(0, (1, 1.3)), zorder=2)
ensemble(ax, wind_members, wind_avg, wind_control)

# 10m windstoten
header(1200, '10m windstoten')
ax = panel(1200, 0, 24, 2)
ax.axhline(gust_limit, color='#2a5555', lw=1.3, ls=(0, (1, 1.3)), zorder=2)
ensemble(ax, gust_members, gust_avg, gust_control)

# Bedekkingsgraad
header(1500, 'Bedekkingsgraad', kind='boxes')
ax = panel(1500, 0, 100, 10, shifted=True)
idx = np.arange(len(cloud_control))
lo = np.array(cloud_bottom)
hi = np.array(cloud_top)
ax.bar(idx, hi - lo, bottom=lo, width=0.78, color='#f9f6a6', edgecolor='#bcbcbc',
       lw=1.0, zorder=2, clip_on=False)
ax.hlines(cloud_median, idx - 0.39, idx + 0.39, color='#3a3a2a', lw=0.9, zorder=3)
ax.plot(idx, cloud_control, color=BLUE, lw=1.7, zorder=4)

fig.savefig('out.png', dpi=100)
